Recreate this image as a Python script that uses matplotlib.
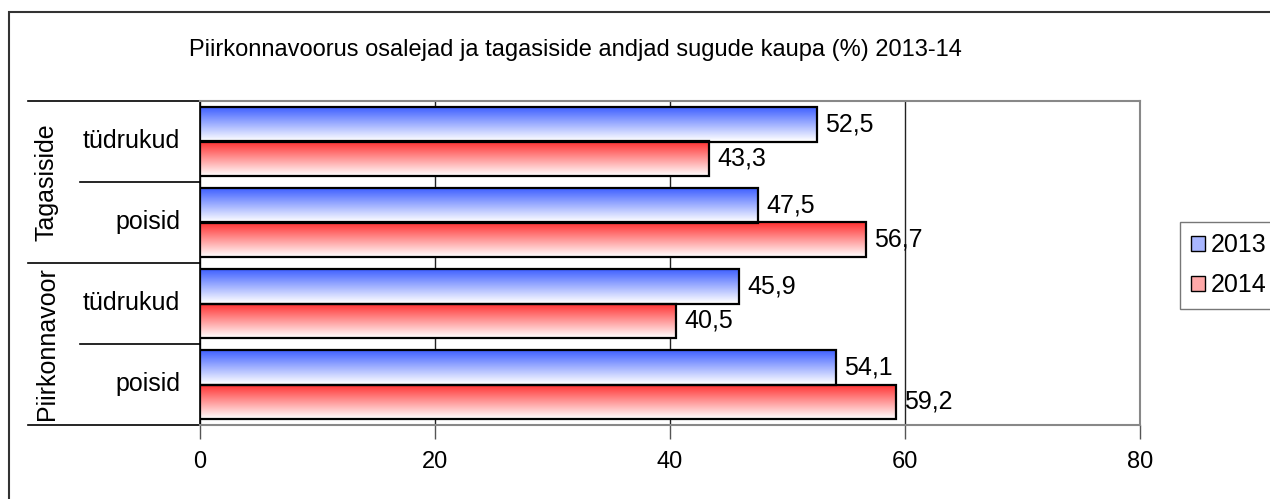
import numpy as np
import matplotlib
matplotlib.use("Agg")
import matplotlib.pyplot as plt
from matplotlib.patches import Rectangle, Patch

plt.rcParams['font.family'] = ['Liberation Sans', 'DejaVu Sans']

# data
groups = ["Tagasiside", "Piirkonnavoor"]
categories = ["tüdrukud", "poisid", "tüdrukud", "poisid"]
years = ["2013", "2014"]
vals_2013 = [52.5, 47.5, 45.9, 54.1]
vals_2014 = [43.3, 56.7, 40.5, 59.2]

title = "Piirkonnavoorus osalejad ja tagasiside andjad sugude kaupa (%) 2013-14"

W, H = 1270, 499
fig = plt.figure(figsize=(W / 100, H / 100), dpi=100)
ax = fig.add_axes([200 / W, 1 - 425 / H, 940 / W, 324 / H])

# outer chart border (cropped at right and bottom)
fig.patches.append(Rectangle((9 / W, -0.05), 1.2, 1 - 12 / H + 0.05,
                             transform=fig.transFigure, fill=False,
                             edgecolor="#333333", linewidth=1.5))

ypos = np.arange(len(categories))[::-1]  # top to bottom
h = 0.43

def gradient_bar(bars, color):
    for b in bars:
        x0, y0 = b.get_x(), b.get_y()
        w, hh = b.get_width(), b.get_height()
        t = np.linspace(0, 1, 64)[:, None]
        c0 = np.array(matplotlib.colors.to_rgb(color))
        c1 = np.array([1.0, 1.0, 1.0])
        img = (c1 * (1 - t) + c0 * t)[:, None, :]   # row 0 = bottom = white
        im = ax.imshow(img, extent=(x0, x0 + w, y0, y0 + hh), origin="lower",
                       aspect="auto", zorder=2, interpolation="bilinear")
        im.set_clip_path(b)

b13 = ax.barh(ypos + h / 2, vals_2013, height=h, facecolor="none",
              edgecolor="black", linewidth=1.6, zorder=3)
b14 = ax.barh(ypos - h / 2, vals_2014, height=h, facecolor="none",
              edgecolor="black", linewidth=1.6, zorder=3)
gradient_bar(b13, "#3a5cff")
gradient_bar(b14, "#ff3030")

for bars, vals in [(b13, vals_2013), (b14, vals_2014)]:
    for b, v in zip(bars, vals):
        ax.text(v + 0.7, b.get_y() + b.get_height() / 2, f"{v:.1f}".replace(".", ","),
                va="center", ha="left", fontsize=18, zorder=4)

ax.set_xlim(0, 80)
ax.set_ylim(-0.5, len(categories) - 0.5)
ax.set_xticks([0, 20, 40, 60, 80])
ax.tick_params(axis="x", direction="out", length=10, width=1, color="#555555",
               labelsize=17, pad=9)
ax.set_yticks([])
ax.xaxis.grid(True, color="#222222", linewidth=1)
ax.set_axisbelow(True)

for s in ["top", "right", "bottom"]:
    ax.spines[s].set_color("#888888")
    ax.spines[s].set_linewidth(1.5)
ax.spines["left"].set_color("black")
ax.spines["left"].set_linewidth(1.2)

# category labels and separators
tr = ax.get_yaxis_transform()
for y, c in zip(ypos, categories):
    ax.text(-0.021, y, c, transform=tr, ha="right", va="center", fontsize=18)
for y in [3.5, 1.5, -0.5]:
    ax.plot([-0.183, 0], [y, y], transform=tr, color="black", lw=1.2, clip_on=False)
for y in [2.5, 0.5]:
    ax.plot([-0.128, 0], [y, y], transform=tr, color="black", lw=1.2, clip_on=False)
for gi, g in enumerate(groups):
    yc = ypos[2 * gi] - 0.5
    ax.text(-0.163, yc, g, transform=tr, rotation=90, ha="center", va="center",
            fontsize=18)

fig.text(575 / W, 1 - 50 / H, title, ha="center", va="center", fontsize=17)

handles = [Patch(facecolor="#a8b6ff", edgecolor="black"),
           Patch(facecolor="#ffa8a8", edgecolor="black")]
fig.legend(handles, years, loc="upper left", bbox_to_anchor=(1180 / W, 1 - 222 / H),
           frameon=True, fancybox=False, edgecolor="#555555", fontsize=18,
           handlelength=0.55, handleheight=0.55, handletextpad=0.25,
           labelspacing=0.65, borderpad=0.45, borderaxespad=0)

fig.savefig("out.png", dpi=100)
